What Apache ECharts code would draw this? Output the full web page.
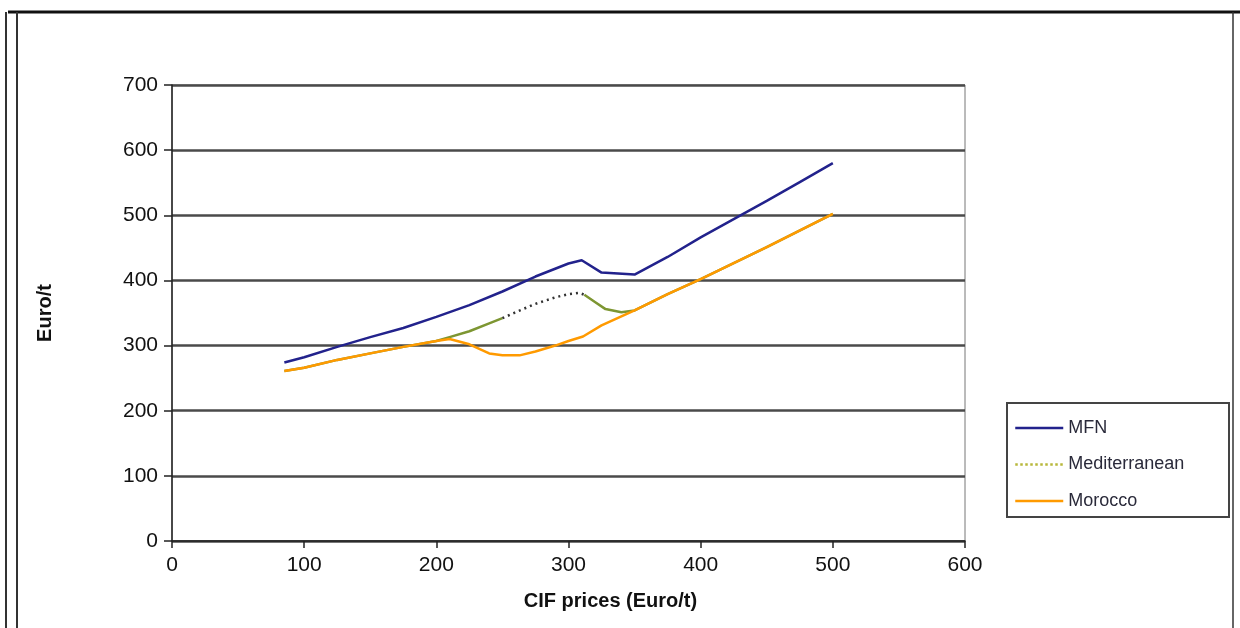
<!DOCTYPE html>
<html>
<head>
<meta charset="utf-8">
<script src="https://cdn.jsdelivr.net/npm/echarts@6/dist/echarts.min.js"></script>
<style>
html,body{margin:0;padding:0;background:#fff;}
#chart{width:1240px;height:628px;}
</style>
</head>
<body>
<div id="chart"></div>
<script>
// ---- data ----
var yTicks = [0, 100, 200, 300, 400, 500, 600, 700];
var xTicks = [0, 100, 200, 300, 400, 500, 600];

var mfnX = [85, 100, 125, 150, 175, 200, 225, 250, 275, 300, 310, 325, 350, 375, 400, 425, 450, 475, 500];
var mfnY = [274, 282, 298, 313, 327, 344, 362, 383, 406, 426, 431, 412, 409, 436, 466, 494, 522, 551, 580];

var medX = [85, 100, 125, 150, 175, 200, 210, 225, 240, 250, 308, 312, 320, 328, 340, 350, 375, 400, 450, 500];
var medY = [261, 266, 278, 288, 298, 307, 313, 322, 334, 342, null, 378, 367, 356, 351, 354, 379, 402, 451, 502];

var medGapX = [250, 262, 275, 290, 300, 308, 312];
var medGapY = [342, 353, 364, 374, 379, 381, 378];

var morX = [85, 100, 125, 150, 175, 200, 210, 225, 240, 250, 263, 275, 290, 300, 311, 325, 350, 375, 400, 450, 500];
var morY = [261, 266, 278, 288, 298, 307, 310, 302, 288, 285, 285, 291, 300, 307, 314, 331, 354, 379, 402, 451, 502];

var seriesNames = ['MFN', 'Mediterranean', 'Morocco'];

function pairs(xs, ys) {
  return xs.map(function (x, i) { return [x, ys[i]]; });
}

var chart = echarts.init(document.getElementById('chart'), null, {renderer: 'canvas'});
var FONT = '"Liberation Sans", Arial, sans-serif';

var option = {
  backgroundColor: '#ffffff',
  animation: false,
  grid: {
    left: 172, right: 275, top: 85, bottom: 87,
    show: true, borderColor: '#777', borderWidth: 1, backgroundColor: 'transparent'
  },
  xAxis: {
    type: 'value', min: xTicks[0], max: xTicks[xTicks.length - 1], interval: 100,
    name: 'CIF prices (Euro/t)', nameLocation: 'middle', nameGap: 50,
    nameTextStyle: {fontFamily: FONT, fontSize: 20, fontWeight: 'bold', color: '#111', padding: [0, 0, 0, 84]},
    axisLine: {show: true, onZero: false, lineStyle: {color: '#222', width: 1.5}},
    axisTick: {show: true, length: 7, lineStyle: {color: '#222', width: 1.5}},
    axisLabel: {fontFamily: FONT, fontSize: 21, color: '#111', margin: 14},
    splitLine: {show: false}
  },
  yAxis: {
    type: 'value', min: yTicks[0], max: yTicks[yTicks.length - 1], interval: 100,
    name: 'Euro/t', nameLocation: 'middle', nameGap: 117, nameRotate: 90,
    nameTextStyle: {fontFamily: FONT, fontSize: 20, fontWeight: 'bold', color: '#111'},
    axisLine: {show: true, lineStyle: {color: '#222', width: 1.5}},
    axisTick: {show: true, length: 8, lineStyle: {color: '#222', width: 1.5}},
    axisLabel: {fontFamily: FONT, fontSize: 21, color: '#111', margin: 14},
    splitLine: {show: true, lineStyle: {color: '#4a4a4a', width: 2.5}}
  },
  legend: {
    orient: 'vertical', left: 1014, top: 418, padding: 0,
    itemWidth: 48, itemHeight: 14, itemGap: 16.5,
    itemStyle: {opacity: 0},
    textStyle: {fontFamily: FONT, fontSize: 18, color: '#2a2a3a', lineHeight: 20},
    data: [
      {name: seriesNames[0], lineStyle: {color: '#22228c', width: 2.5}},
      {name: seriesNames[1], lineStyle: {type: 'dotted', color: '#b8b83c', width: 2.5}},
      {name: seriesNames[2], lineStyle: {color: '#ff9a00', width: 2.5}}
    ]
  },
  graphic: [
    {type: 'rect', shape: {x: 1007, y: 403, width: 222, height: 114},
     style: {fill: '#fff', stroke: '#444', lineWidth: 2}, z: -1, silent: true},
    {type: 'line', shape: {x1: 8, y1: 12, x2: 1240, y2: 12}, style: {stroke: '#111', lineWidth: 3}, silent: true},
    {type: 'line', shape: {x1: 6, y1: 12, x2: 6, y2: 628}, style: {stroke: '#333', lineWidth: 2}, silent: true},
    {type: 'line', shape: {x1: 17, y1: 12, x2: 17, y2: 628}, style: {stroke: '#333', lineWidth: 2}, silent: true},
    {type: 'line', shape: {x1: 1233, y1: 12, x2: 1233, y2: 628}, style: {stroke: '#333', lineWidth: 1.5}, silent: true}
  ],
  series: [
    {
      name: seriesNames[0], type: 'line', data: pairs(mfnX, mfnY),
      symbol: 'none', smooth: false, color: '#22228c',
      lineStyle: {color: '#22228c', width: 2.5}, z: 3
    },
    {
      name: seriesNames[1], type: 'line', data: pairs(medX, medY),
      symbol: 'none', smooth: false, connectNulls: false, color: '#7d9632',
      lineStyle: {color: '#7d9632', width: 2.5}, z: 4
    },
    {
      name: seriesNames[1], type: 'line', data: pairs(medGapX, medGapY),
      symbol: 'none', smooth: false, color: '#7d9632',
      lineStyle: {color: '#333333', width: 2.5, type: [2, 4]}, z: 4
    },
    {
      name: seriesNames[2], type: 'line', data: pairs(morX, morY),
      symbol: 'none', smooth: false, color: '#ff9a00',
      lineStyle: {color: '#ff9a00', width: 2.5}, z: 5
    }
  ]
};
chart.setOption(option);
</script>
</body>
</html>
